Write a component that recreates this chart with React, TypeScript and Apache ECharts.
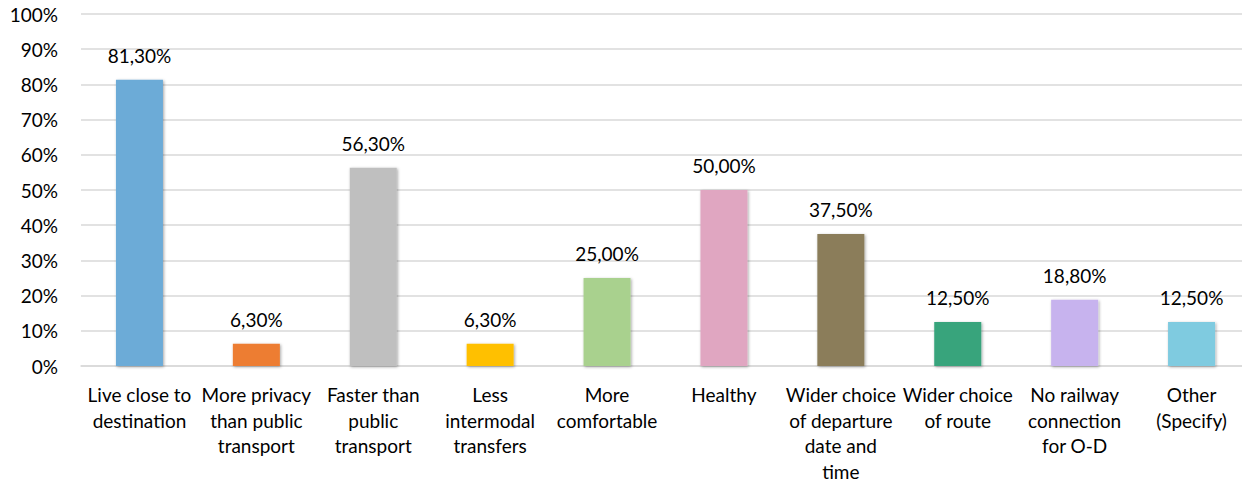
import React, { useEffect, useRef } from "react";
import * as echarts from "echarts";

const categories = [
  "Live close to\ndestination",
  "More privacy\nthan public\ntransport",
  "Faster than\npublic\ntransport",
  "Less\nintermodal\ntransfers",
  "More\ncomfortable",
  "Healthy",
  "Wider choice\nof departure\ndate and\ntime",
  "Wider choice\nof route",
  "No railway\nconnection\nfor O-D",
  "Other\n(Specify)",
];
const values = [81.3, 6.3, 56.3, 6.3, 25.0, 50.0, 37.5, 12.5, 18.8, 12.5];
const colors = [
  "#6CABD7",
  "#ED7D31",
  "#BFBFBF",
  "#FFC000",
  "#A9D18E",
  "#E0A6C1",
  "#8B7D5A",
  "#37A47B",
  "#C7B3EE",
  "#7FCBE0",
];
const yTicks = [0, 10, 20, 30, 40, 50, 60, 70, 80, 90, 100];

export default function App() {
  const ref = useRef<HTMLDivElement>(null);
  useEffect(() => {
    if (!ref.current) return;
    const chart = echarts.init(ref.current, undefined, { renderer: "svg" });
    const font = "Lato, 'Open Sans', sans-serif";
    chart.setOption({
      animation: false,
      grid: { left: 81, right: 0, top: 14, bottom: 116, containLabel: false },
      xAxis: {
        type: "category",
        data: categories,
        axisLine: { show: true, lineStyle: { color: "#D9D9D9", width: 1.5 } },
        axisTick: { show: false },
        axisLabel: {
          interval: 0,
          color: "#000",
          fontFamily: font,
          fontSize: 19,
          lineHeight: 25.5,
          margin: 16,
        },
      },
      yAxis: {
        type: "value",
        min: yTicks[0],
        max: yTicks[yTicks.length - 1],
        interval: 10,
        axisLine: { show: false },
        axisTick: { show: false },
        splitLine: { lineStyle: { color: "#D9D9D9", width: 1.5 } },
        axisLabel: {
          formatter: (v: number) => `${v}%`,
          color: "#000",
          fontFamily: font,
          fontSize: 19,
          margin: 23,
        },
      },
      series: [
        {
          type: "bar",
          barWidth: 47,
          data: values.map((v, i) => ({
            value: v,
            itemStyle: {
              color: colors[i],
              shadowBlur: 3,
              shadowColor: "rgba(0,0,0,0.35)",
              shadowOffsetX: 1,
              shadowOffsetY: 1,
            },
          })),
          label: {
            show: true,
            position: "top",
            distance: 15,
            color: "#000",
            fontFamily: font,
            fontSize: 19,
            formatter: (p: any) => `${p.value.toFixed(2).replace(".", ",")}%`,
          },
        },
      ],
    });
    return () => chart.dispose();
  }, []);
  return (
    <div
      ref={ref}
      style={{ width: 1250, height: 484, marginLeft: -8, marginTop: -8 }}
    />
  );
}
